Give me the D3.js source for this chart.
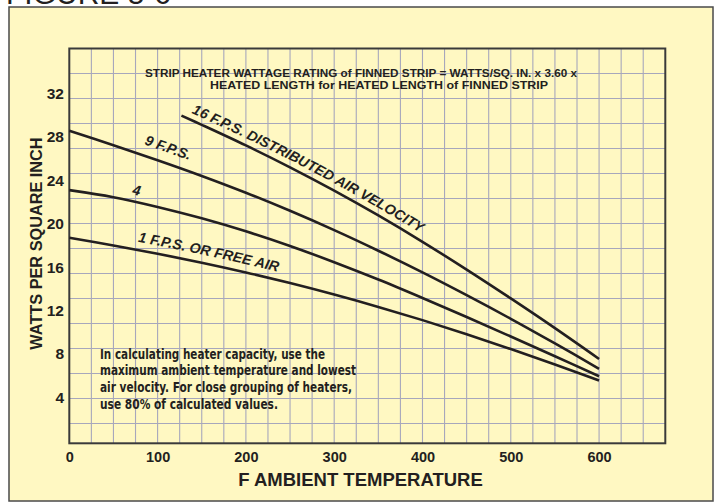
<!DOCTYPE html>
<html>
<head>
<meta charset="utf-8">
<script src="https://cdn.jsdelivr.net/npm/d3@7"></script>
<style>
  body { margin: 0; background: #ffffff; }
  svg { display: block; font-family: "Liberation Sans", Arial, Helvetica, sans-serif; }
</style>
</head>
<body>
<svg id="chart" width="716" height="503"></svg>
<script>
// ---------------- data ----------------
const xTickValues = [0, 100, 200, 300, 400, 500, 600];
const yTickValues = [4, 8, 12, 16, 20, 24, 28, 32];

const temps = [0, 50, 100, 150, 200, 250, 300, 350, 400, 450, 500, 550, 600];
const fps1Watts = [18.70, 18.00, 17.24, 16.41, 15.51, 14.53, 13.47, 12.33, 11.11, 9.81, 8.44, 7.02, 5.55];
const fps4Watts = [23.10, 22.45, 21.55, 20.50, 19.30, 17.95, 16.45, 14.85, 13.15, 11.40, 9.60, 7.78, 5.93];
const fps9Watts = [28.57, 27.24, 25.86, 24.41, 22.86, 21.19, 19.41, 17.51, 15.51, 13.41, 11.23, 8.96, 6.62];
const temps16 = [127, 150, 200, 250, 300, 350, 400, 450, 500, 550, 600];
const fps16Watts = [29.97, 29.12, 27.22, 25.20, 23.05, 20.76, 18.33, 15.77, 13.11, 10.37, 7.53];

const curveNames = ["16 F.P.S. DISTRIBUTED AIR VELOCITY", "9 F.P.S.", "4", "1 F.P.S. OR FREE AIR"];

const headerLines = [
  "STRIP HEATER WATTAGE RATING of FINNED STRIP =  WATTS/SQ. IN. x 3.60 x",
  "HEATED LENGTH for HEATED LENGTH of FINNED STRIP"
];
const noteLines = [
  "In calculating heater capacity, use the",
  "maximum ambient temperature and lowest",
  "air velocity. For close grouping of heaters,",
  "use 80% of calculated values."
];
const xTitle = "F AMBIENT TEMPERATURE";
const yTitle = "WATTS PER SQUARE INCH";
const figTitle = "FIGURE 5-6";

// ---------------- layout ----------------
const svg = d3.select("#chart");
const ink = "#231f20";
const paper = "#fff8c2";
const gridCol = "#a7a7bc";

const plot = { left: 69.3, right: 665.3, top: 48.5, bottom: 443.3 };
const x = d3.scaleLinear().domain([0, 675]).range([plot.left, plot.right]);
const y = d3.scaleLinear().domain([-0.25, 36.16]).range([plot.bottom, plot.top]);

// clipped figure caption at the very top
svg.append("text")
  .attr("x", 6).attr("y", 4)
  .attr("font-size", 30).attr("fill", ink)
  .text(figTitle);

// outer panel
svg.append("rect")
  .attr("x", 9).attr("y", 7).attr("width", 704).attr("height", 494)
  .attr("fill", paper).attr("stroke", "#4a4a4a").attr("stroke-width", 1.5);

// graph-paper grid
const g = svg.append("g");
const gridX = d3.range(25, 675, 25);
g.selectAll("line.gx").data(gridX).join("line")
  .attr("x1", d => x(d)).attr("x2", d => x(d))
  .attr("y1", plot.top).attr("y2", plot.bottom)
  .attr("stroke", gridCol).attr("stroke-width", 1.1);

const gridRowStep = 2.306;
const gridY = d3.range(1, 16).map(i => 36.16 - i * gridRowStep);
g.selectAll("line.gy").data(gridY).join("line")
  .attr("x1", plot.left).attr("x2", plot.right)
  .attr("y1", d => y(d)).attr("y2", d => y(d))
  .attr("stroke", gridCol).attr("stroke-width", 1.1);

// frame
g.append("rect")
  .attr("x", plot.left).attr("y", plot.top)
  .attr("width", plot.right - plot.left).attr("height", plot.bottom - plot.top)
  .attr("fill", "none").attr("stroke", "#3a3a3a").attr("stroke-width", 2);

// axes
const xAxis = d3.axisBottom(x).tickValues(xTickValues).tickSize(0).tickPadding(8);
const xa = svg.append("g").attr("transform", `translate(0,${plot.bottom})`).call(xAxis);
xa.select(".domain").remove();
xa.selectAll("text").attr("font-size", 14.5).attr("font-weight", "bold").attr("fill", ink)
  .attr("font-family", "Liberation Sans, Arial, sans-serif");

const yAxis = d3.axisLeft(y).tickValues(yTickValues).tickSize(0).tickPadding(5.3);
const ya = svg.append("g").attr("transform", `translate(${plot.left},0)`).call(yAxis);
ya.select(".domain").remove();
ya.selectAll("text").attr("font-size", 15.5).attr("font-weight", "bold").attr("fill", ink)
  .attr("font-family", "Liberation Sans, Arial, sans-serif");

// axis titles
svg.append("text")
  .attr("x", 360.5).attr("y", 485.5).attr("text-anchor", "middle")
  .attr("font-size", 18.5).attr("font-weight", "bold").attr("fill", ink)
  .text(xTitle);
svg.append("text")
  .attr("transform", "translate(41.5,243.5) rotate(-90)").attr("text-anchor", "middle")
  .attr("font-size", 16.3).attr("font-weight", "bold").attr("fill", ink)
  .text(yTitle);

// header annotation
svg.append("text").attr("x", 145).attr("y", 76.7)
  .attr("font-size", 11.3).attr("font-weight", "bold").attr("fill", ink)
  .attr("textLength", 432).attr("lengthAdjust", "spacingAndGlyphs")
  .text(headerLines[0]);
svg.append("text").attr("x", 210).attr("y", 89)
  .attr("font-size", 11.3).attr("font-weight", "bold").attr("fill", ink)
  .attr("textLength", 338).attr("lengthAdjust", "spacingAndGlyphs")
  .text(headerLines[1]);

// note
const noteWidths = [225, 256, 252, 178];
const noteBase = [358.5, 375.3, 392.3, 409.3];
noteLines.forEach((t, i) => {
  svg.append("text").attr("x", 100).attr("y", noteBase[i])
    .attr("font-family", "'Liberation Sans Narrow', 'DejaVu Sans Condensed', 'Liberation Sans', Arial, sans-serif")
    .attr("font-size", 14.2).attr("font-weight", "bold").attr("fill", ink)
    .attr("textLength", noteWidths[i]).attr("lengthAdjust", "spacingAndGlyphs")
    .text(t);
});

// curves
const series = [
  { id: "c16", t: temps16, v: fps16Watts, name: curveNames[0], off: 8, dy: -6.5 },
  { id: "c9", t: temps, v: fps9Watts, name: curveNames[1], off: 75, dy: -10.5 },
  { id: "c4", t: temps, v: fps4Watts, name: curveNames[2], off: 62, dy: -6.5 },
  { id: "c1", t: temps, v: fps1Watts, name: curveNames[3], off: 68, dy: -8 }
];
const line = d3.line().x(d => x(d[0])).y(d => y(d[1])).curve(d3.curveCatmullRom.alpha(0.5));
series.forEach(s => {
  const pts = s.t.map((t, i) => [t, s.v[i]]);
  svg.append("path").attr("id", s.id).attr("d", line(pts))
    .attr("fill", "none").attr("stroke", ink).attr("stroke-width", 2.6);
  svg.append("text")
    .attr("font-size", 14.2).attr("font-weight", "bold").attr("font-style", "italic").attr("fill", ink)
    .append("textPath").attr("href", "#" + s.id).attr("startOffset", s.off)
    .append("tspan").attr("dy", s.dy).text(s.name);
});
</script>
</body>
</html>
